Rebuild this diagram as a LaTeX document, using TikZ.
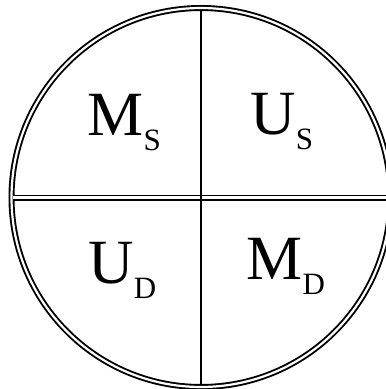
\documentclass[tikz,border=0pt]{standalone}
\usepackage{fontspec}
\setmainfont{Liberation Serif}
\usetikzlibrary{positioning}

\newcommand{\quadlabel}[2]{{\fontsize{63}{63}\selectfont #1}\kern0.5pt\raisebox{-15pt}{\fontsize{31}{31}\selectfont #2}}

\begin{document}
\begin{tikzpicture}[
  x=1pt, y=-1pt,
  rim/.style={draw=black, line width=1.9pt, double=white, double distance=2.2pt},
  divider/.style={draw=black, line width=2pt},
  lbl/.style={anchor=base west, inner sep=0pt, outer sep=0pt}
]
  \useasboundingbox (0,0) rectangle (386,389);
  \coordinate (ctr) at (201,197.5);
  % outer ring and the two dividers
  \draw[rim] (ctr) circle[radius=189.5pt];
  \coordinate (west) at (13,197.5);
  \coordinate (east) at (389,197.5);
  \coordinate (north) at (201,11);
  \coordinate (south) at (201,385);
  \draw[rim] (west) -- (east);
  \draw[divider] (north) -- (south);
  % quadrant labels
  \node[lbl] (ms) at (87,135) {\quadlabel{M}{S}};
  \node[lbl] (us) at (250,134) {\quadlabel{U}{S}};
  \node[lbl] (ud) at (88,283) {\quadlabel{U}{D}};
  \node[lbl] (md) at (246,279) {\quadlabel{M}{D}};
\end{tikzpicture}
\end{document}
